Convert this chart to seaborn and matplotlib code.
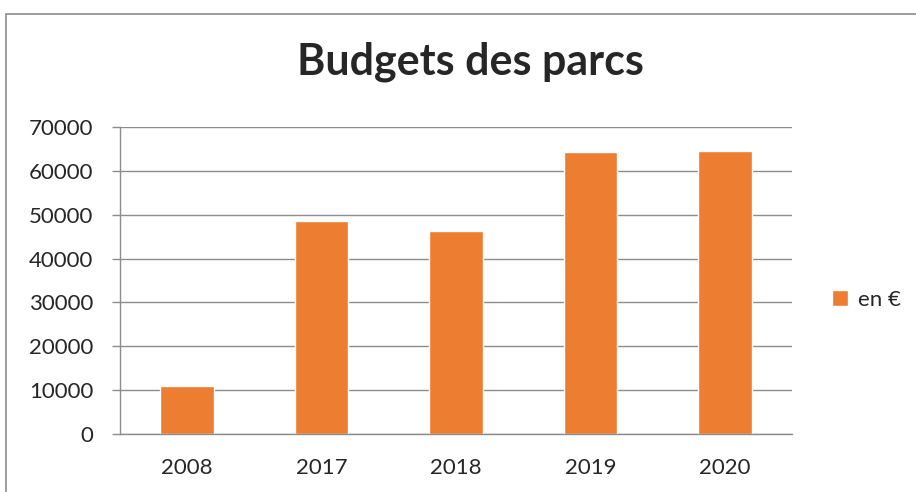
import matplotlib
matplotlib.use("Agg")
import matplotlib.pyplot as plt
import seaborn as sns
from matplotlib.patches import Rectangle
from matplotlib.ticker import FixedLocator

years = ["2008", "2017", "2018", "2019", "2020"]
budgets = [11000, 48600, 46200, 64300, 64500]
yticks = [0, 10000, 20000, 30000, 40000, 50000, 60000, 70000]

sns.set_style("white")
plt.rcParams['font.family'] = ['Lato', 'DejaVu Sans']

grey = "#8c8c8c"
orange = "#ED7D31"

fig = plt.figure(figsize=(9.16, 4.92), dpi=100)
ax = fig.add_axes([120/916, 1-434/492, (792-120)/916, (434-127)/492])

sns.barplot(x=years, y=budgets, color=orange, width=0.4, saturation=1,
            label="en €", ax=ax)

ax.set_ylim(0, 70000)
ax.set_xlim(-0.5, 4.5)
ax.set_yticks(yticks)
ax.set_yticklabels([str(v) for v in yticks], fontsize=16)
ax.tick_params(axis='x', which='major', length=0, labelsize=16, pad=17)
ax.xaxis.set_minor_locator(FixedLocator([-0.5, 0.5, 1.5, 2.5, 3.5, 4.5]))
ax.tick_params(axis='x', which='minor', length=6, color=grey, width=1)
ax.tick_params(axis='y', length=6, color=grey, width=1, left=True, pad=13)
ax.yaxis.grid(True, color=grey, linewidth=1)
ax.set_axisbelow(True)
for s in ['top', 'right']:
    ax.spines[s].set_visible(False)
for s in ['left', 'bottom']:
    ax.spines[s].set_color(grey)
    ax.spines[s].set_linewidth(1)
ax.set_xlabel("")
ax.set_ylabel("")

fig.text(470/916, 1-75/492, "Budgets des parcs", ha='center', va='baseline',
         fontsize=31, fontweight='bold')

ax.legend(loc='center left', bbox_to_anchor=(812/916, 1-300/492),
          bbox_transform=fig.transFigure, frameon=False, fontsize=16,
          handlelength=0.7, handleheight=0.7, handletextpad=0.45)

# outer chart border (cropped on right/bottom)
fig.patches.append(Rectangle((6/916, -0.05), 1.0, 1 - 14/492 + 0.05,
                             transform=fig.transFigure, fill=False,
                             edgecolor=grey, linewidth=1.2))

fig.savefig("out.png", dpi=100)
